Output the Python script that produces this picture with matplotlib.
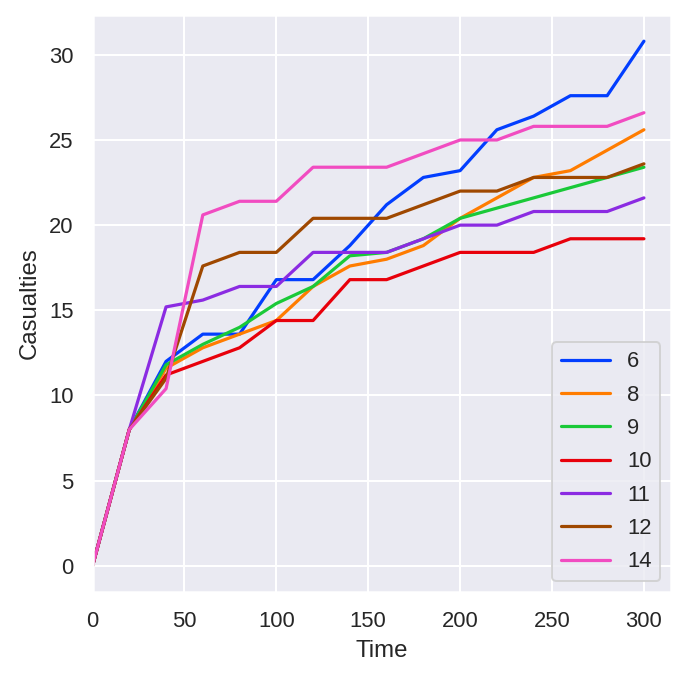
import numpy as np
import matplotlib
matplotlib.use("Agg")
import matplotlib.pyplot as plt
import seaborn as sns

sns.set_theme(style="darkgrid", context="notebook")
plt.rcParams['font.family'] = ['Liberation Sans', 'DejaVu Sans']

# time steps
time = [0, 20, 40, 60, 80, 100, 120, 140, 160, 180, 200, 220, 240, 260, 280, 300]

# casualties per group
cas_6 = [0, 8, 12.0, 13.6, 13.6, 16.8, 16.8, 18.8, 21.2, 22.8, 23.2, 25.6, 26.4, 27.6, 27.6, 30.8]
cas_8 = [0, 8, 11.6, 12.8, 13.6, 14.4, 16.4, 17.6, 18.0, 18.8, 20.4, 21.6, 22.8, 23.2, 24.4, 25.6]
cas_9 = [0, 8, 11.8, 13.0, 14.0, 15.4, 16.4, 18.2, 18.4, 19.2, 20.4, 21.0, 21.6, 22.2, 22.8, 23.4]
cas_10 = [0, 8, 11.2, 12.0, 12.8, 14.4, 14.4, 16.8, 16.8, 17.6, 18.4, 18.4, 18.4, 19.2, 19.2, 19.2]
cas_11 = [0, 8, 15.2, 15.6, 16.4, 16.4, 18.4, 18.4, 18.4, 19.2, 20.0, 20.0, 20.8, 20.8, 20.8, 21.6]
cas_12 = [0, 8, 11.0, 17.6, 18.4, 18.4, 20.4, 20.4, 20.4, 21.2, 22.0, 22.0, 22.8, 22.8, 22.8, 23.6]
cas_14 = [0, 8, 10.4, 20.6, 21.4, 21.4, 23.4, 23.4, 23.4, 24.2, 25.0, 25.0, 25.8, 25.8, 25.8, 26.6]

labels = ["6", "8", "9", "10", "11", "12", "14"]
series = [cas_6, cas_8, cas_9, cas_10, cas_11, cas_12, cas_14]
colors = sns.color_palette("bright", len(series))

fig = plt.figure(figsize=(688 / 144, 680 / 144), dpi=144)
ax = fig.add_axes([0.1345, 0.1294, 0.976 - 0.1345, 0.978 - 0.1294])

for lab, vals, c in zip(labels, series, colors):
    ax.plot(time, vals, color=c, linewidth=1.6, label=lab)

ax.set_xlim(left=0)
ax.set_xlabel("Time")
ax.set_ylabel("Casualties")
ax.legend(loc="lower right", labelspacing=0.56, handlelength=2.2)

fig.savefig("out.png", dpi=144)
